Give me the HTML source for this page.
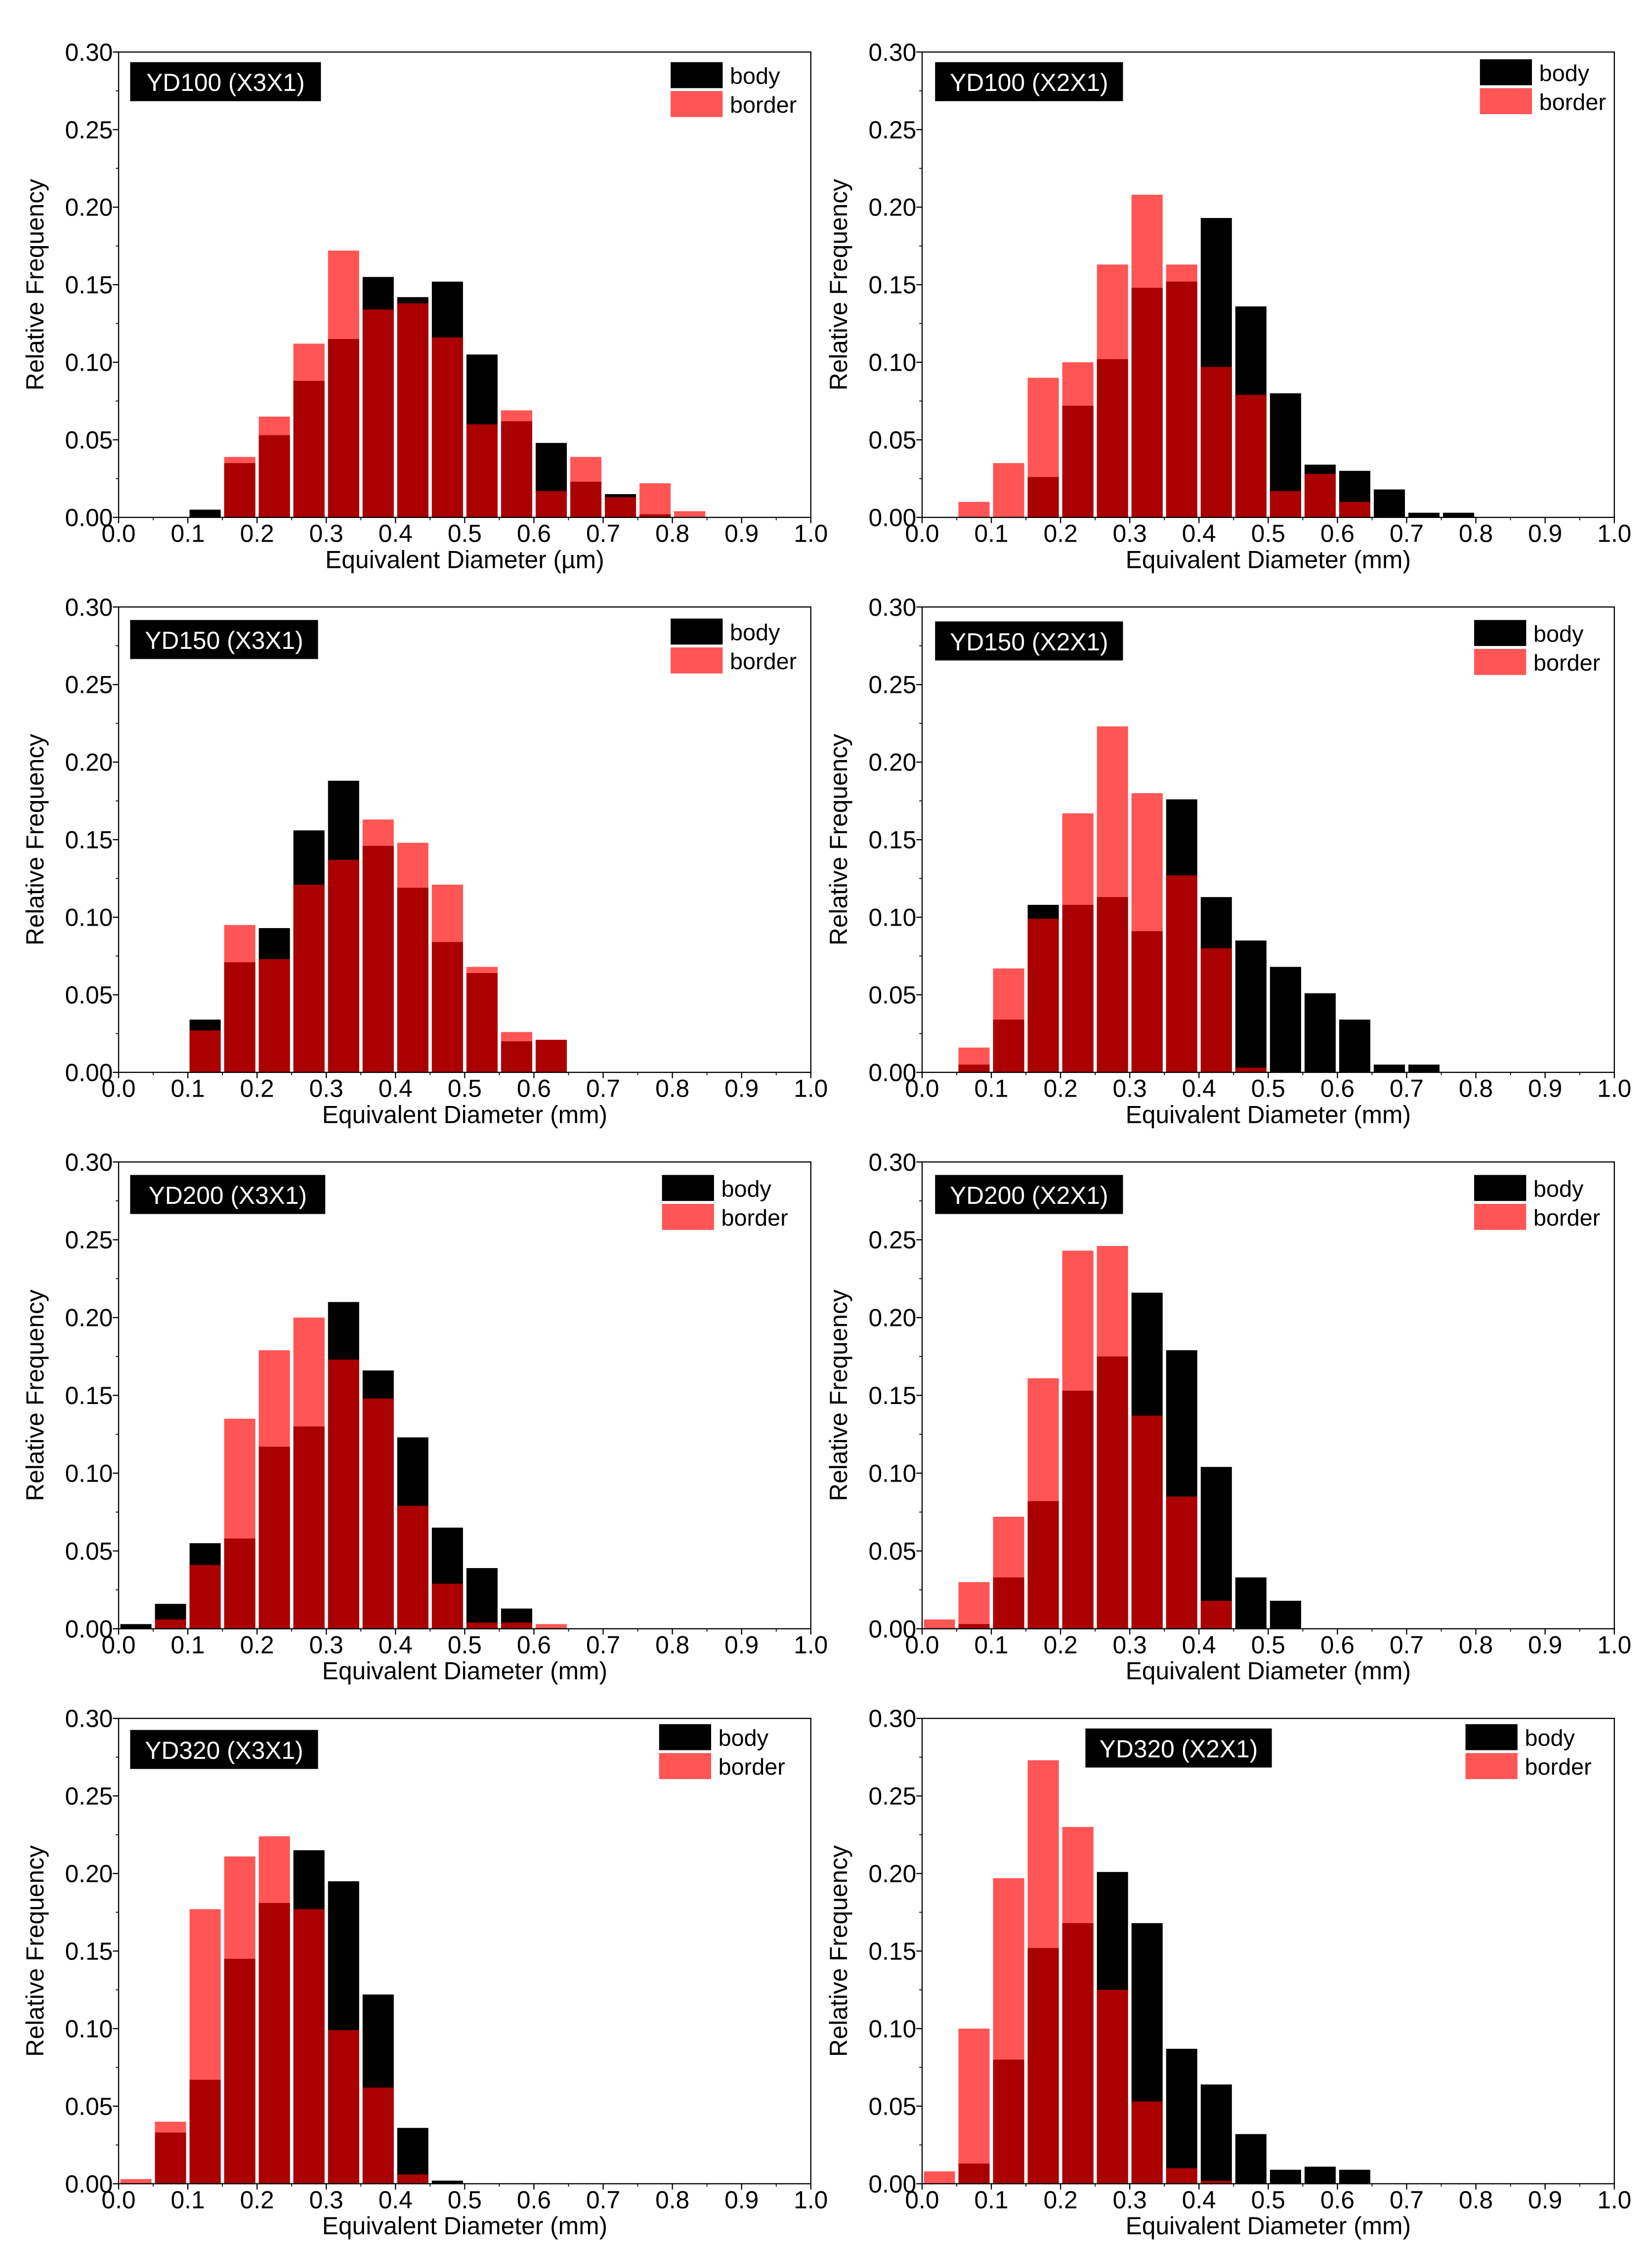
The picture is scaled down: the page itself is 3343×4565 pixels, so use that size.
<!DOCTYPE html>
<html><head><meta charset="utf-8"><style>html,body{margin:0;padding:0;background:#fff}svg{display:block}text{font-family:"Liberation Sans",Arial,sans-serif}</style></head>
<body>
<svg id="fig" width="3343" height="4565" viewBox="0 0 1143 1561" xmlns="http://www.w3.org/2000/svg"></svg>
<script>
const bins = [0,0.05,0.1,0.15,0.2,0.25,0.3,0.35,0.4,0.45,0.5,0.55,0.6,0.65,0.7,0.75,0.8,0.85,0.9,0.95];
const yTicks = ["0.00","0.05","0.10","0.15","0.20","0.25","0.30"];
const xTicks = ["0.0","0.1","0.2","0.3","0.4","0.5","0.6","0.7","0.8","0.9","1.0"];
const titles = ["YD100 (X3X1)","YD100 (X2X1)","YD150 (X3X1)","YD150 (X2X1)","YD200  (X3X1)","YD200 (X2X1)","YD320 (X3X1)","YD320 (X2X1)"];
const body1 = [0,0,0.005,0.035,0.053,0.088,0.115,0.155,0.142,0.152,0.105,0.062,0.048,0.023,0.015,0.002,0,0,0,0];
const border1 = [0,0,0,0.039,0.065,0.112,0.172,0.134,0.138,0.116,0.060,0.069,0.017,0.039,0.013,0.022,0.004,0,0,0];
const body2 = [0,0,0,0.026,0.072,0.102,0.148,0.152,0.193,0.136,0.080,0.034,0.030,0.018,0.003,0.003,0,0,0,0];
const border2 = [0,0.010,0.035,0.090,0.100,0.163,0.208,0.163,0.097,0.079,0.017,0.028,0.010,0,0,0,0,0,0,0];
const body3 = [0,0,0.034,0.071,0.093,0.156,0.188,0.146,0.119,0.084,0.064,0.020,0.021,0,0,0,0,0,0,0];
const border3 = [0,0,0.027,0.095,0.073,0.121,0.137,0.163,0.148,0.121,0.068,0.026,0.021,0,0,0,0,0,0,0];
const body4 = [0,0.005,0.034,0.108,0.108,0.113,0.091,0.176,0.113,0.085,0.068,0.051,0.034,0.005,0.005,0,0,0,0,0];
const border4 = [0,0.016,0.067,0.099,0.167,0.223,0.180,0.127,0.080,0.003,0,0,0,0,0,0,0,0,0,0];
const body5 = [0.003,0.016,0.055,0.058,0.117,0.130,0.210,0.166,0.123,0.065,0.039,0.013,0,0,0,0,0,0,0,0];
const border5 = [0,0.006,0.041,0.135,0.179,0.200,0.173,0.148,0.079,0.029,0.004,0.004,0.003,0,0,0,0,0,0,0];
const body6 = [0,0.003,0.033,0.082,0.153,0.175,0.216,0.179,0.104,0.033,0.018,0,0,0,0,0,0,0,0,0];
const border6 = [0.006,0.030,0.072,0.161,0.243,0.246,0.137,0.085,0.018,0,0,0,0,0,0,0,0,0,0,0];
const body7 = [0,0.033,0.067,0.145,0.181,0.215,0.195,0.122,0.036,0.002,0,0,0,0,0,0,0,0,0,0];
const border7 = [0.003,0.040,0.177,0.211,0.224,0.177,0.099,0.062,0.006,0,0,0,0,0,0,0,0,0,0,0];
const body8 = [0,0.013,0.080,0.152,0.168,0.201,0.168,0.087,0.064,0.032,0.009,0.011,0.009,0,0,0,0,0,0,0];
const border8 = [0.008,0.100,0.197,0.273,0.230,0.125,0.053,0.010,0.002,0,0,0,0,0,0,0,0,0,0,0];
const bodies = [body1,body2,body3,body4,body5,body6,body7,body8];
const borders = [border1,border2,border3,border4,border5,border6,border7,border8];

const NS="http://www.w3.org/2000/svg";
const svg=document.getElementById('fig');
function mk(tag,attrs,parent,txt){const e=document.createElementNS(NS,tag);for(const k in attrs)e.setAttribute(k,attrs[k]);if(txt!==undefined)e.textContent=txt;(parent||svg).appendChild(e);return e;}
const cols=[82,638], rows=[[36,358],[420,742],[804,1127],[1189,1511]], W=479;
const titleBox=[[90,43,132],[647,43,130],[90,429,130],[647,430,130],[90,813,135],[647,813,130],[90,1197,130],[751,1196,129]];
const legPos=[[464,43],[1024,41],[464,428],[1020,429],[458,813],[1020,813],[456,1193],[1014,1193]];
for(let p=0;p<8;p++){
  const x0=cols[p%2], top=rows[Math.floor(p/2)][0], bot=rows[Math.floor(p/2)][1];
  const sx=v=>x0+v*W, sy=v=>bot-(v/0.30)*(bot-top);
  const g=mk('g',{});
  
  
  const bodyArr=bodies[p], borderArr=borders[p];
  for(let i=0;i<bins.length;i++){
    if(bodyArr[i]>0){const r=mk('rect',{x:sx(bins[i]+0.0025),y:sy(bodyArr[i]),width:sx(0.045)-x0,height:bot-sy(bodyArr[i]),fill:'#000'},g);
      
      }
  }
  for(let i=0;i<bins.length;i++){
    if(borderArr[i]>0){const r=mk('rect',{x:sx(bins[i]+0.0025),y:sy(borderArr[i]),width:sx(0.045)-x0,height:bot-sy(borderArr[i]),fill:'rgb(255,0,0)','fill-opacity':0.667},g);
      
      }
  }
  mk('rect',{x:x0,y:top,width:W,height:bot-top,fill:'none',stroke:'#000','stroke-width':0.8},g);
  yTicks.forEach((t,i)=>{const v=i*0.05,y=sy(v);
    mk('line',{x1:x0-4,x2:x0,y1:y,y2:y,stroke:'#000','stroke-width':0.8},g);
    if(i<6)mk('line',{x1:x0-2,x2:x0,y1:sy(v+0.025),y2:sy(v+0.025),stroke:'#000','stroke-width':0.6},g);
    const tl=mk('text',{x:x0-4,y:y+6,'font-size':17,'text-anchor':'end'},g,t);
    
    });
  xTicks.forEach((t,i)=>{const x=sx(i*0.1);
    mk('line',{x1:x,x2:x,y1:bot,y2:bot+4,stroke:'#000','stroke-width':0.8},g);
    if(i<10)mk('line',{x1:sx(i*0.1+0.05),x2:sx(i*0.1+0.05),y1:bot,y2:bot+2,stroke:'#000','stroke-width':0.6},g);
    const tl=mk('text',{x:x,y:bot+17,'font-size':17,'text-anchor':'middle'},g,t);
    
    });
  const xt=mk('text',{x:x0+W/2,y:bot+35,'font-size':17,'text-anchor':'middle'},g,p===0?'Equivalent Diameter (µm)':'Equivalent Diameter (mm)');
  
  
  const yx=x0-52, yc=(top+bot)/2;
  const yt=mk('text',{x:yx,y:yc,'font-size':17,'text-anchor':'middle',transform:`rotate(-90 ${yx} ${yc})`},g,'Relative Frequency');
  
  
  const tb=titleBox[p];
  const tr=mk('rect',{x:tb[0],y:tb[1],width:tb[2],height:27,fill:'#000'},g);
  
  
  const tt=mk('text',{x:tb[0]+tb[2]/2,y:tb[1]+20,'font-size':17,'text-anchor':'middle',fill:'#fff'},g,titles[p]);
  
  
  const lp=legPos[p];
  const l1=mk('rect',{x:lp[0],y:lp[1],width:36,height:18,fill:'#000'},g);
  
  
  const l2=mk('rect',{x:lp[0],y:lp[1]+20,width:36,height:18,fill:'#ff5555'},g);
  
  
  const lt1=mk('text',{x:lp[0]+41,y:lp[1]+15,'font-size':16},g,'body');
  
  
  const lt2=mk('text',{x:lp[0]+41,y:lp[1]+35,'font-size':16},g,'border');
  
  
}
</script>
</body></html>
